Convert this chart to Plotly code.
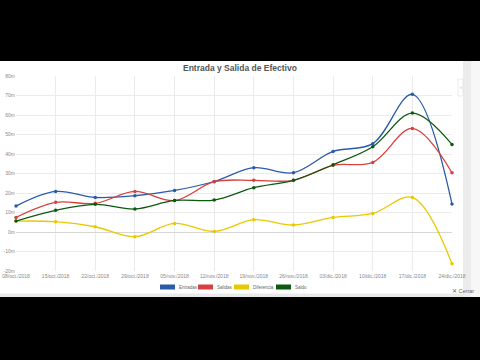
import plotly.graph_objects as go

fechas = ["08/oct./2018", "15/oct./2018", "22/oct./2018", "29/oct./2018", "05/nov./2018",
          "12/nov./2018", "19/nov./2018", "26/nov./2018", "03/dic./2018", "10/dic./2018",
          "17/dic./2018", "24/dic./2018"]
entradas = [13.3, 20.8, 17.7, 18.6, 21.3, 25.9, 33.0, 30.4, 41.3, 45.3, 70.6, 14.4]
salidas = [7.5, 15.2, 14.7, 20.8, 16.1, 25.8, 26.5, 26.5, 34.2, 35.7, 53.1, 30.4]
diferencia = [5.6, 5.3, 2.7, -2.4, 4.4, 0.3, 6.3, 3.6, 7.5, 9.5, 17.7, -16.3]
saldo = [5.6, 11.1, 14.2, 11.8, 16.2, 16.4, 22.7, 26.5, 34.5, 43.7, 61.0, 44.9]
y_ticks = [-20, -10, 0, 10, 20, 30, 40, 50, 60, 70, 80]
y_labels = [f"{v}m" for v in y_ticks]

series = [("Entradas", entradas, "#2b5ba8"),
          ("Salidas", salidas, "#d8403f"),
          ("Diferencia", diferencia, "#e8c900"),
          ("Saldo", saldo, "#0b5a0f")]

# pixel -> paper helpers (plot area: x 16..452, y 76..271)
L, R, T, B = 16, 452, 76, 271
def px(x):
    return (x - L) / (R - L)
def py(y):
    return (B - y) / (B - T)

fig = go.Figure()
for name, vals, col in series:
    fig.add_trace(go.Scatter(
        x=fechas, y=vals, name=name, mode="lines+markers",
        line=dict(color=col, width=1.3, shape="spline", smoothing=1.0),
        marker=dict(color=col, size=3.5),
        cliponaxis=False, showlegend=False))

shapes = [
    # white page area between black bars
    dict(type="rect", xref="paper", yref="paper", x0=px(-5), x1=px(485), y0=py(297), y1=py(61),
         fillcolor="white", line=dict(width=0), layer="below"),
    # bottom light gray strip
    dict(type="rect", xref="paper", yref="paper", x0=px(-5), x1=px(472), y0=py(297), y1=py(293.5),
         fillcolor="#e9e9e9", line=dict(width=0), layer="below"),
    # right scrollbar
    dict(type="rect", xref="paper", yref="paper", x0=px(463), x1=px(471), y0=py(297), y1=py(61),
         fillcolor="#ececec", line=dict(width=0), layer="below"),
    dict(type="rect", xref="paper", yref="paper", x0=px(471), x1=px(485), y0=py(297), y1=py(61),
         fillcolor="#f7f7f7", line=dict(width=0), layer="below"),
    dict(type="rect", xref="paper", yref="paper", x0=px(458), x1=px(463), y0=py(96), y1=py(79),
         fillcolor="white", line=dict(width=0.6, color="#dddddd"), layer="below"),
]

annotations = [
    dict(text="<b>Entrada y Salida de Efectivo</b>", xref="paper", yref="paper",
         x=px(240), y=py(68), showarrow=False, xanchor="center", yanchor="middle",
         font=dict(family="Liberation Sans", size=8.5, color="#555555")),
    dict(text="✕ Cerrar", xref="paper", yref="paper", x=px(450), y=py(291),
         showarrow=False, xanchor="left", yanchor="middle",
         font=dict(family="Liberation Sans", size=5.5, color="#666666")),
    dict(text="‹", xref="paper", yref="paper", x=px(460.5), y=py(87),
         showarrow=False, xanchor="center", yanchor="middle",
         font=dict(family="Liberation Sans", size=6, color="#aaaaaa")),
]

# manual legend (boxes + labels)
leg_x = [160, 198, 234, 276]
for (name, vals, col), x0 in zip(series, leg_x):
    shapes.append(dict(type="rect", xref="paper", yref="paper", x0=px(x0), x1=px(x0 + 15),
                       y0=py(289.5), y1=py(284.5), fillcolor=col, line=dict(width=0)))
    annotations.append(dict(text=name, xref="paper", yref="paper", x=px(x0 + 17), y=py(287),
                            showarrow=False, xanchor="left", yanchor="middle",
                            font=dict(family="Liberation Sans", size=4.5, color="#666666")))

fig.update_layout(
    width=480, height=360,
    margin=dict(l=L, r=480 - R, t=T, b=360 - B),
    paper_bgcolor="black", plot_bgcolor="white",
    shapes=shapes, annotations=annotations,
    xaxis=dict(type="category", range=[0, len(fechas) - 1], showgrid=True, gridcolor="#ebebeb",
               gridwidth=1, zeroline=False, showline=False, ticks="", automargin=False,
               tickfont=dict(family="Liberation Sans", size=5, color="#888888"), ticklabelstandoff=1),
    yaxis=dict(range=[-20, 80], tickvals=y_ticks, ticktext=y_labels, showgrid=True,
               gridcolor="#ebebeb", gridwidth=1, zeroline=True, zerolinecolor="#d6d6d6",
               zerolinewidth=1, showline=False, ticks="", automargin=False,
               tickfont=dict(family="Liberation Sans", size=5, color="#888888")),
    showlegend=False,
)

fig.write_html("out.html", config={"displayModeBar": False},
               post_script="document.body.style.margin='0';")
